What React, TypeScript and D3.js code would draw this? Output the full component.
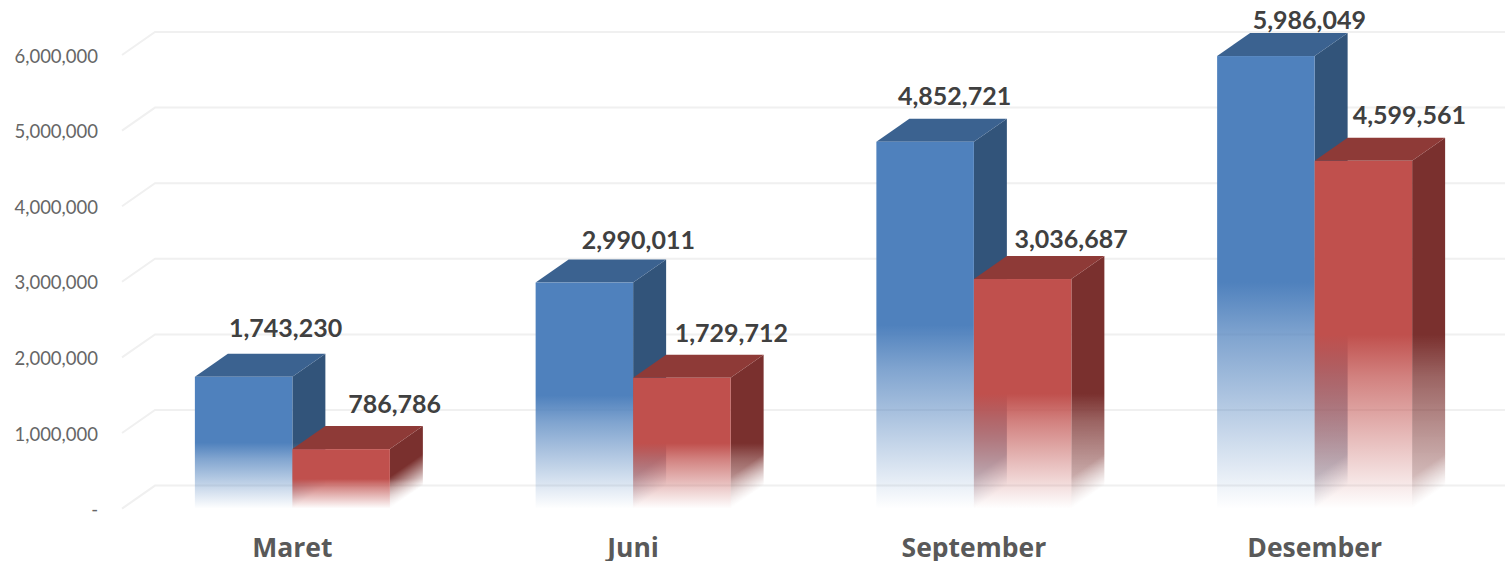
import React from "react";
import * as d3 from "d3";

const categories = ["Maret", "Juni", "September", "Desember"];
const blueValues = [1743230, 2990011, 4852721, 5986049];
const redValues = [786786, 1729712, 3036687, 4599561];
const tickValues = [0, 1000000, 2000000, 3000000, 4000000, 5000000, 6000000];

// hand placed label nudges, measured from the middle of the bar's front top edge
const blueLabelNudge = [[42, -48.5], [54, -42.5], [29.5, -45.5], [43.5, -36]];
const redLabelNudge = [[53.5, -45], [49.5, -44.5], [48.5, -39.5], [46, -45.5]];

const width = 1505;
const height = 561;
const depthX = 33;
const depthY = 23;
const barW = 97.5;
const baseY = 508.6;
const sideBand = 26; // px over which the side face dies out along its slanted bottom

const x = d3.scaleBand<string>().domain(categories).range([122, 1485]);
const y = d3.scaleLinear().domain([0, 6000000]).range([baseY, 55]);
const fmt = d3.format(",");

const pts = (p: number[][]) => p.map(d => d.join(",")).join(" ");

const BLUE = { front: "#4f81bd", top: "#3b6290", side: "#32547a" };
const RED = { front: "#c0504d", top: "#8e3a37", side: "#7a302e" };

function Bar({ id, x0, value, col }: { id: string; x0: number; value: number; col: typeof BLUE }) {
  const top = y(value);
  const h = baseY - top;
  const x1 = x0 + barW;
  // mask gradient runs square to the slanted bottom edge of the side face
  const n = Math.hypot(depthX, depthY);
  const nx = depthY / n;
  const ny = depthX / n;
  return (
    <g>
      <defs>
        <linearGradient id={`${id}-front`} gradientUnits="userSpaceOnUse" x1={0} y1={top} x2={0} y2={baseY}>
          <stop offset="0" stopColor={col.front} stopOpacity={1} />
          <stop offset="0.5" stopColor={col.front} stopOpacity={1} />
          <stop offset="0.62" stopColor={col.front} stopOpacity={0.72} />
          <stop offset="1" stopColor={col.front} stopOpacity={0} />
        </linearGradient>
        <linearGradient id={`${id}-side`} gradientUnits="userSpaceOnUse" x1={0} y1={top} x2={0} y2={baseY}>
          <stop offset="0" stopColor={col.side} stopOpacity={1} />
          <stop offset="0.5" stopColor={col.side} stopOpacity={1} />
          <stop offset="0.62" stopColor={col.side} stopOpacity={0.75} />
          <stop offset="1" stopColor={col.side} stopOpacity={0.2} />
        </linearGradient>
        <linearGradient
          id={`${id}-edge`}
          gradientUnits="userSpaceOnUse"
          x1={x1 - nx * sideBand}
          y1={baseY - ny * sideBand}
          x2={x1}
          y2={baseY}
        >
          <stop offset="0" stopColor="#fff" stopOpacity={1} />
          <stop offset="1" stopColor="#fff" stopOpacity={0} />
        </linearGradient>
        <mask id={`${id}-mask`} maskUnits="userSpaceOnUse" x={x1 - 2} y={top - depthY - 2} width={depthX + 4} height={h + depthY + 4}>
          <rect x={x1 - 2} y={top - depthY - 2} width={depthX + 4} height={h + depthY + 4} fill={`url(#${id}-edge)`} />
        </mask>
      </defs>
      <polygon
        points={pts([[x1, top], [x1 + depthX, top - depthY], [x1 + depthX, baseY - depthY], [x1, baseY]])}
        fill={`url(#${id}-side)`}
        mask={`url(#${id}-mask)`}
      />
      <polygon
        points={pts([[x0, top], [x0 + depthX, top - depthY], [x1 + depthX, top - depthY], [x1, top]])}
        fill={col.top}
      />
      <rect x={x0} y={top} width={barW} height={h} fill={`url(#${id}-front)`} />
    </g>
  );
}

export default function App() {
  const font = "Lato, 'Open Sans', sans-serif";
  return (
    <svg
      width={width}
      height={height}
      style={{ position: "absolute", left: 0, top: 0, display: "block", background: "#fff" }}
      fontFamily={font}
    >
      {/* grid, floor edge then back wall */}
      <g stroke="#f0f0f0" strokeWidth={2} fill="none">
        {tickValues.map(t => (
          <polyline
            key={t}
            points={pts([[122, y(t)], [122 + depthX, y(t) - depthY], [width, y(t) - depthY]])}
          />
        ))}
      </g>

      {tickValues.map(t => (
        <text
          key={t}
          x={98}
          y={y(t) + 1}
          dy="0.36em"
          textAnchor="end"
          fontSize={18.5}
          fill="#666666"
        >
          {t === 0 ? "-" : fmt(t)}
        </text>
      ))}

      {categories.map((c, i) => {
        const mid = (x(c) ?? 0) + x.bandwidth() / 2;
        return (
          <g key={c}>
            <Bar id={`blue-${i}`} x0={mid - barW} value={blueValues[i]} col={BLUE} />
            <Bar id={`red-${i}`} x0={mid} value={redValues[i]} col={RED} />
            <text
              x={mid}
              y={557}
              textAnchor="middle"
              fontFamily="'Open Sans', sans-serif"
              fontSize={26.5}
              fontWeight={700}
              fill="#595959"
            >
              {c}
            </text>
          </g>
        );
      })}

      {categories.map((c, i) => {
        const mid = (x(c) ?? 0) + x.bandwidth() / 2;
        const labels = [
          { v: blueValues[i], cx: mid - barW / 2, n: blueLabelNudge[i] },
          { v: redValues[i], cx: mid + barW / 2, n: redLabelNudge[i] },
        ];
        return labels.map(l => (
          <text
            key={`${c}-${l.v}`}
            x={l.cx + l.n[0]}
            y={y(l.v) + l.n[1]}
            dy="0.35em"
            textAnchor="middle"
            fontSize={25}
            fontWeight={700}
            fill="#404040"
          >
            {fmt(l.v)}
          </text>
        ));
      })}
    </svg>
  );
}
